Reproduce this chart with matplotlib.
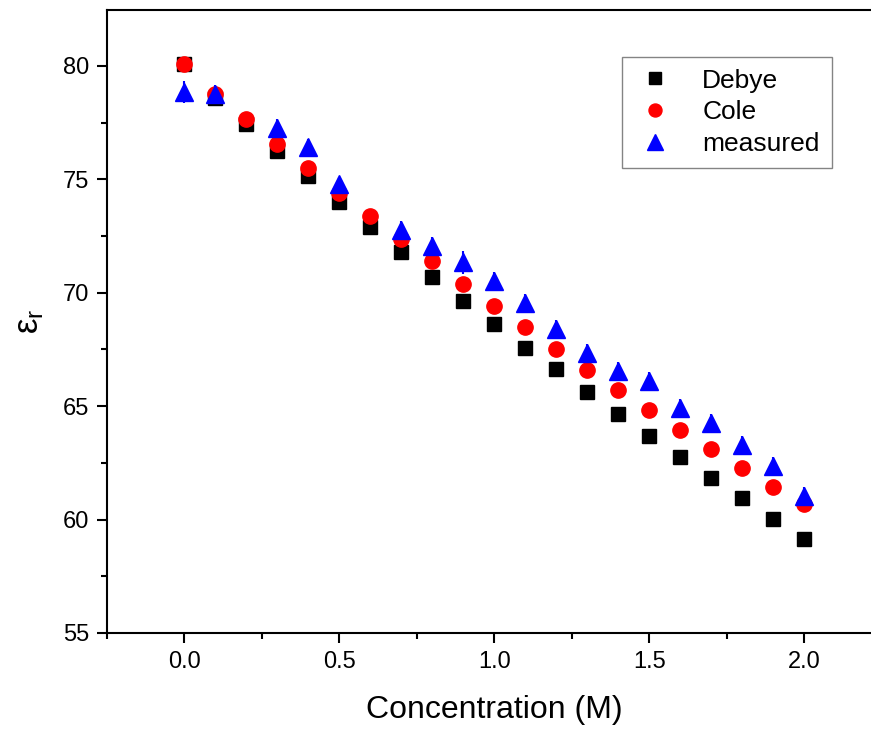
import matplotlib
matplotlib.use("Agg")
import matplotlib.pyplot as plt
from matplotlib.ticker import MultipleLocator

plt.rcParams['font.family'] = ['Liberation Sans', 'DejaVu Sans']
plt.rcParams['mathtext.fontset'] = 'custom'
plt.rcParams['mathtext.rm'] = 'Liberation Sans'
plt.rcParams['mathtext.it'] = 'Liberation Sans'

# concentration (M)
conc = [0.0, 0.1, 0.2, 0.3, 0.4, 0.5, 0.6, 0.7, 0.8, 0.9, 1.0,
        1.1, 1.2, 1.3, 1.4, 1.5, 1.6, 1.7, 1.8, 1.9, 2.0]
debye = [80.1, 78.6, 77.44, 76.25, 75.15, 74.0, 72.9, 71.8, 70.7, 69.64, 68.61,
         67.58, 66.63, 65.64, 64.66, 63.70, 62.76, 61.85, 60.94, 60.04, 59.13]
cole = [80.1, 78.75, 77.66, 76.57, 75.49, 74.41, 73.40, 72.36, 71.38, 70.39, 69.43,
        68.47, 67.52, 66.61, 65.71, 64.82, 63.97, 63.10, 62.26, 61.45, 60.67]

# measured values (no data at 0.2 and 0.6)
conc_meas = [0.0, 0.1, 0.3, 0.4, 0.5, 0.7, 0.8, 0.9, 1.0, 1.1,
             1.2, 1.3, 1.4, 1.5, 1.6, 1.7, 1.8, 1.9, 2.0]
measured = [78.85, 78.78, 77.25, 76.43, 74.81, 72.77, 72.06, 71.34, 70.50, 69.56,
            68.42, 67.35, 66.53, 66.09, 64.93, 64.25, 63.30, 62.37, 61.05]
meas_err = [0.5, 0.4, 0.4, 0.37, 0.3, 0.4, 0.4, 0.5, 0.4, 0.4,
            0.4, 0.4, 0.4, 0.4, 0.4, 0.4, 0.4, 0.4, 0.4]

fig = plt.figure(figsize=(8.71, 7.31), dpi=100)
ax = fig.add_axes([0.1228, 0.1341, 0.8898, 0.8523])

ax.plot(conc, debye, 's', color='black', ms=10, ls='none', label='Debye')
ax.plot(conc, cole, 'o', color='red', ms=11, ls='none', label='Cole')
ax.errorbar(conc_meas, measured, yerr=meas_err, fmt='none', ecolor='blue',
            elinewidth=1.5, capsize=0)
ax.plot(conc_meas, measured, '^', color='blue', ms=13, ls='none', label='measured')

ax.set_xlim(-0.25, 2.25)
ax.set_ylim(55, 82.47)
ax.xaxis.set_major_locator(MultipleLocator(0.5))
ax.xaxis.set_minor_locator(MultipleLocator(0.25))
ax.yaxis.set_major_locator(MultipleLocator(5))
ax.yaxis.set_minor_locator(MultipleLocator(2.5))
ax.xaxis.set_major_formatter(plt.FormatStrFormatter('%.1f'))
ax.tick_params(which='major', direction='out', length=7, width=1.5, labelsize=17, pad=6)
ax.tick_params(which='minor', direction='out', length=4, width=1.5)
ax.tick_params(top=False, right=False)
for s in ax.spines.values():
    s.set_linewidth(1.5)
ax.spines['right'].set_visible(False)

ax.set_xlabel('Concentration (M)', fontsize=23, labelpad=16)
ax.set_ylabel(r'$\mathrm{\varepsilon_r}$', fontsize=25, labelpad=12)

leg = ax.legend(loc='upper right', bbox_to_anchor=(0.935, 0.925), fontsize=19,
                frameon=True, fancybox=False, edgecolor='#666666', markerscale=0.85,
                handletextpad=1.0, borderpad=0.45, labelspacing=0.3, handlelength=1.6,
                borderaxespad=0)
leg.get_frame().set_linewidth(1.0)

fig.savefig('out.png', dpi=100)
